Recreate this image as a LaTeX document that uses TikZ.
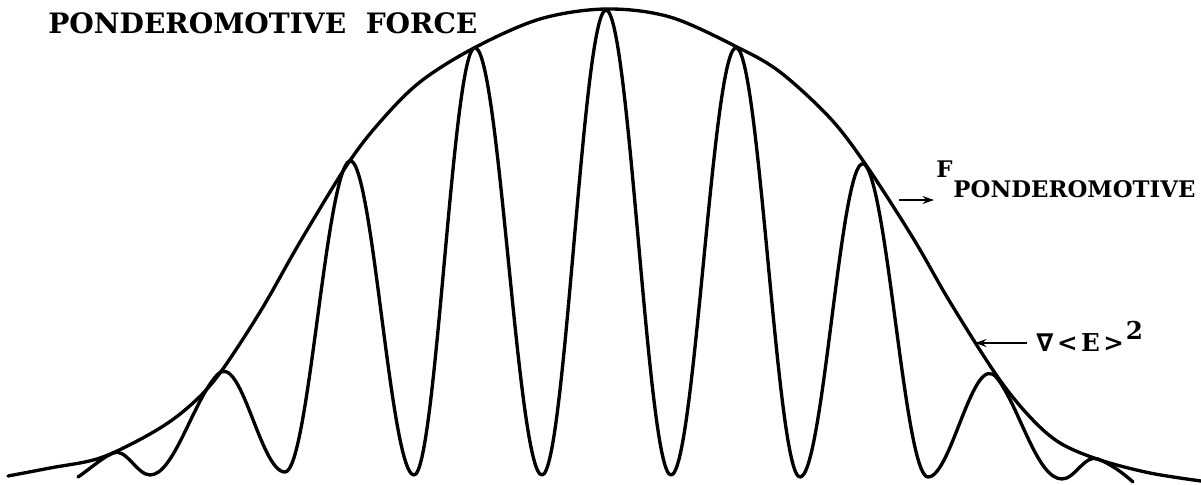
\documentclass[tikz,border=0pt]{standalone}
\usepackage{fontspec}
\setmainfont{DejaVu Serif}
\newfontfamily\dvsans{DejaVu Sans}
\usetikzlibrary{arrows.meta}
\begin{document}
\begin{tikzpicture}[x=0.02cm,y=-0.02cm,
  curve/.style={line width=1.9pt,line join=round,line cap=round},
  pointer/.style={line width=1pt,-{Stealth[length=6.5pt,width=4.5pt]}},
  lbl/.style={inner sep=0pt,font=\bfseries}]
\useasboundingbox (0,0) rectangle (1201,484);
% envelope
\draw[curve] plot[smooth,tension=0.55] coordinates {
 (8,476) (50,468) (100,458) (150,434) (185,410) (217,377) (260,312) (300,242)
 (347,165) (380,122) (420,82) (474,48) (540,19) (606,9) (670,17) (737,47)
 (780,72) (830,118) (866,165) (913,238) (950,302) (997,376) (1030,417)
 (1060,443) (1100,460) (1150,473) (1201,481)};
% oscillating field
\draw[curve] (78,477) .. controls (90,469) and (101,458.4) .. (113,453)
 .. controls (126,447.2) and (137,475) .. (150,475)
 .. controls (174,475) and (193,401) .. (217,375)
 .. controls (241,348.6) and (260,472) .. (285,472)
 .. controls (307.5,472) and (324.5,194) .. (347,163)
 .. controls (371,130) and (389.6,475) .. (414,475)
 .. controls (435.8,475) and (452.2,58.5) .. (474,48)
 .. controls (498.7,36.1) and (517.3,475) .. (542,475)
 .. controls (565.3,475) and (582.7,10) .. (606,10)
 .. controls (629.6,10) and (647.4,475) .. (671,475)
 .. controls (695,475) and (713,36) .. (737,48)
 .. controls (759.9,59.5) and (777.1,477) .. (800,477)
 .. controls (824,477) and (842,132.4) .. (866,166)
 .. controls (888.5,197.5) and (905.5,477) .. (928,477)
 .. controls (951.6,477) and (973.4,347.8) .. (997,378)
 .. controls (1020,408) and (1037,479) .. (1062,479)
 .. controls (1075,479) and (1085,453.8) .. (1098,459)
 .. controls (1110,463.8) and (1122,472) .. (1133,482);
% labels
\node[lbl,anchor=base west,font=\bfseries\fontsize{16pt}{16pt}\selectfont] (title) at (48,33) {PONDEROMOTIVE\ \ FORCE};
\node[lbl,anchor=base west,font=\bfseries\fontsize{13pt}{13pt}\selectfont] (F) at (936,177)
 {F\kern0.5pt\raisebox{-11.4pt}{\fontsize{13pt}{13pt}\selectfont PONDEROMOTIVE}};
\node[lbl,anchor=base west,font=\bfseries\fontsize{14pt}{14pt}\selectfont] (grad) at (1036,351)
 {{\dvsans\bfseries\itshape ∇}\kern2pt<\kern2pt E\kern2pt>\kern1pt\raisebox{6.5pt}{2}};
\coordinate (a1s) at (899,200);
\coordinate (a1e) at (934,200);
\draw[pointer] (a1s) -- (a1e);
\coordinate (a2s) at (1027,343);
\coordinate (a2e) at (975,343);
\draw[pointer] (a2s) -- (a2e);
\end{tikzpicture}
\end{document}
